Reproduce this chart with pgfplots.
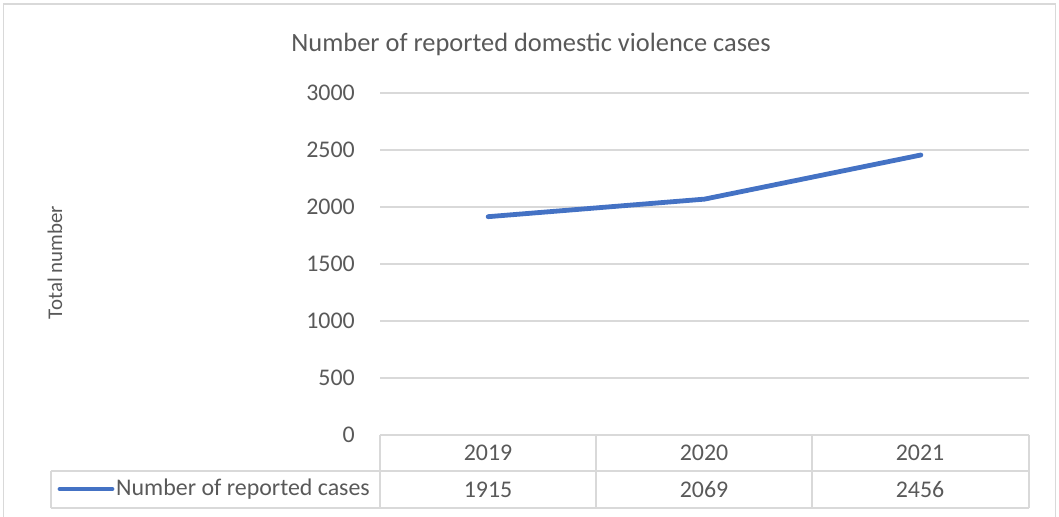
\documentclass[border=0pt]{standalone}
\usepackage{pgfplots}
\pgfplotsset{compat=1.18}
\usepackage{fontspec}
\setmainfont{Carlito}
\definecolor{lineblue}{HTML}{4472C4}
\definecolor{txt}{HTML}{595959}
\definecolor{gridc}{HTML}{D9D9D9}
\begin{document}
\begin{tikzpicture}[x=1bp,y=1bp]
\useasboundingbox (0,0) rectangle (1059,517);
\draw[gridc, line width=1.2bp] (3.5,-5) rectangle (1055.5,513);
\begin{axis}[
  at={(380bp,82bp)}, anchor=south west,
  scale only axis, width=649bp, height=342bp,
  xmin=-0.5, xmax=2.5, ymin=0, ymax=3000,
  ytick={0,500,...,3000}, xtick=\empty,
  ymajorgrids, grid style={gridc, line width=1.2bp},
  axis line style={draw=none},
  major tick length=0pt,
  /pgf/number format/.cd, 1000 sep={}, assume math mode=true, /pgfplots/.cd,
  yticklabel style={anchor=east, inner sep=0pt, xshift=-25bp, font=\fontsize{24}{28}\selectfont, text=txt},
  clip=false,
]
\addplot[lineblue, line width=4.8bp, line cap=round, line join=round] coordinates {(0,1915) (1,2069) (2,2456)};
\end{axis}
% data table
\begin{scope}[gridc, line width=1.2bp]
\draw (380,82) -- (1029,82);
\draw (51,46) -- (1029,46);
\draw (51,9) -- (1029,9);
\draw (380,82) -- (380,9);
\draw (596,82) -- (596,9);
\draw (812,82) -- (812,9);
\draw (1029,82) -- (1029,9);
\draw (51,46) -- (51,9);
\end{scope}
\begin{scope}[every node/.style={text=txt, font=\fontsize{24}{28}\selectfont, inner sep=0pt}]
\node at (488,64) {2019};
\node at (704,64) {2020};
\node at (920,64) {2021};
\node at (488,27.5) {1915};
\node at (704,27.5) {2069};
\node at (920,27.5) {2456};
\node[anchor=west] at (116,27.5) {Number of reported cases};
\end{scope}
\draw[lineblue, line width=4.8bp, line cap=round] (60,28) -- (112,28);
\node[text=txt, font=\fontsize{26.5}{31}\selectfont, inner sep=0pt] at (531,473) {Number of reported domestic violence cases};
\node[text=txt, font=\fontsize{21}{25}\selectfont, inner sep=0pt, rotate=90] at (55,254.5) {Total number};
\end{tikzpicture}
\end{document}
